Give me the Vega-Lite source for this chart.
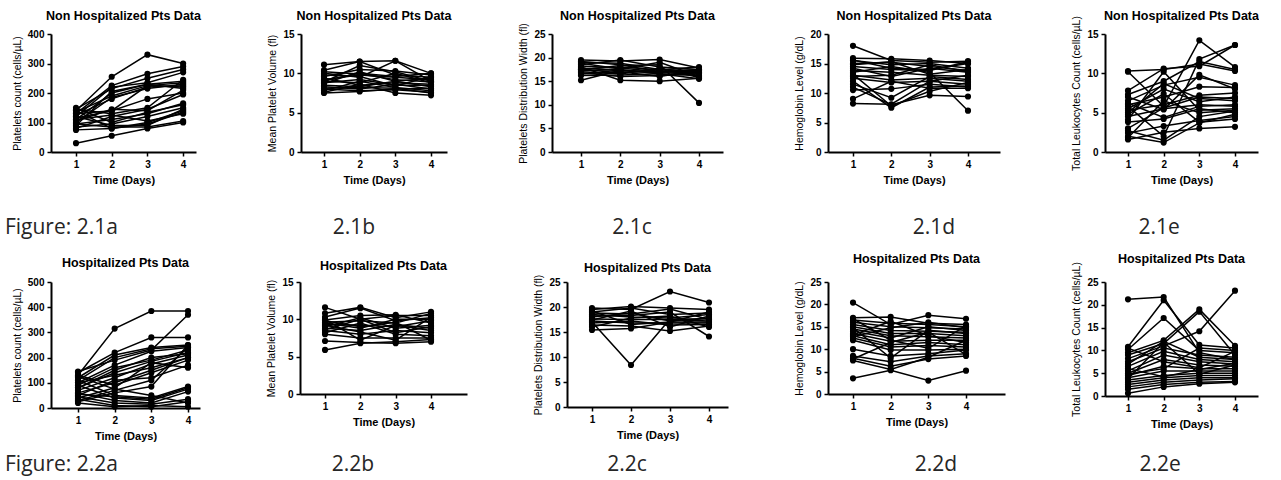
{"$schema":"https://vega.github.io/schema/vega-lite/v6.json","background":"white","padding":{"left":4,"top":9,"right":0,"bottom":0},
"config":{"view":{"stroke":null},"font":"Liberation Sans",
"axis":{"grid":false,"labelOverlap":false,"domainColor":"#000","domainWidth":2,"tickColor":"#000","tickWidth":1.5,"tickSize":4,"labelFont":"Liberation Sans","labelFontSize":10,"labelFontWeight":"bold","labelColor":"#000","titleFont":"Liberation Sans","titleColor":"#000"},
"axisX":{"labelPadding":3,"titleFontSize":11,"titleFontWeight":"bold","titlePadding":5,"labelAngle":0},
"axisY":{"labelPadding":3,"titleFontSize":10.5,"titleFontWeight":"normal","titlePadding":5},
"title":{"font":"Liberation Sans","fontSize":12.5,"fontWeight":"bold","color":"#000","offset":7}},
"datasets":{
"a1":[{"s":1,"t":1,"v":140},{"s":1,"t":2,"v":255},{"s":1,"t":3,"v":330},{"s":1,"t":4,"v":300},{"s":2,"t":1,"v":130},{"s":2,"t":2,"v":225},{"s":2,"t":3,"v":265},{"s":2,"t":4,"v":290},{"s":3,"t":1,"v":145},{"s":3,"t":2,"v":215},{"s":3,"t":3,"v":250},{"s":3,"t":4,"v":280},{"s":4,"t":1,"v":120},{"s":4,"t":2,"v":220},{"s":4,"t":3,"v":235},{"s":4,"t":4,"v":270},{"s":5,"t":1,"v":110},{"s":5,"t":2,"v":200},{"s":5,"t":3,"v":230},{"s":5,"t":4,"v":240},{"s":6,"t":1,"v":135},{"s":6,"t":2,"v":190},{"s":6,"t":3,"v":225},{"s":6,"t":4,"v":235},{"s":7,"t":1,"v":100},{"s":7,"t":2,"v":185},{"s":7,"t":3,"v":215},{"s":7,"t":4,"v":230},{"s":8,"t":1,"v":125},{"s":8,"t":2,"v":180},{"s":8,"t":3,"v":220},{"s":8,"t":4,"v":225},{"s":9,"t":1,"v":90},{"s":9,"t":2,"v":205},{"s":9,"t":3,"v":230},{"s":9,"t":4,"v":215},{"s":10,"t":1,"v":115},{"s":10,"t":2,"v":140},{"s":10,"t":3,"v":180},{"s":10,"t":4,"v":200},{"s":11,"t":1,"v":145},{"s":11,"t":2,"v":130},{"s":11,"t":3,"v":150},{"s":11,"t":4,"v":245},{"s":12,"t":1,"v":105},{"s":12,"t":2,"v":145},{"s":12,"t":3,"v":140},{"s":12,"t":4,"v":210},{"s":13,"t":1,"v":80},{"s":13,"t":2,"v":120},{"s":13,"t":3,"v":145},{"s":13,"t":4,"v":195},{"s":14,"t":1,"v":95},{"s":14,"t":2,"v":110},{"s":14,"t":3,"v":130},{"s":14,"t":4,"v":165},{"s":15,"t":1,"v":150},{"s":15,"t":2,"v":100},{"s":15,"t":3,"v":135},{"s":15,"t":4,"v":160},{"s":16,"t":1,"v":85},{"s":16,"t":2,"v":95},{"s":16,"t":3,"v":120},{"s":16,"t":4,"v":150},{"s":17,"t":1,"v":75},{"s":17,"t":2,"v":80},{"s":17,"t":3,"v":100},{"s":17,"t":4,"v":140},{"s":18,"t":1,"v":110},{"s":18,"t":2,"v":125},{"s":18,"t":3,"v":105},{"s":18,"t":4,"v":130},{"s":19,"t":1,"v":120},{"s":19,"t":2,"v":90},{"s":19,"t":3,"v":90},{"s":19,"t":4,"v":145},{"s":20,"t":1,"v":30},{"s":20,"t":2,"v":55},{"s":20,"t":3,"v":80},{"s":20,"t":4,"v":100},{"s":21,"t":1,"v":95},{"s":21,"t":2,"v":85},{"s":21,"t":3,"v":85},{"s":21,"t":4,"v":105},{"s":22,"t":1,"v":130},{"s":22,"t":2,"v":140},{"s":22,"t":3,"v":225},{"s":22,"t":4,"v":220},{"s":23,"t":1,"v":140},{"s":23,"t":2,"v":80},{"s":23,"t":3,"v":95},{"s":23,"t":4,"v":135}],
"b1":[{"s":1,"t":1,"v":11.1},{"s":1,"t":2,"v":11.5},{"s":1,"t":3,"v":11.6},{"s":1,"t":4,"v":10.0},{"s":2,"t":1,"v":10.4},{"s":2,"t":2,"v":11.5},{"s":2,"t":3,"v":9.8},{"s":2,"t":4,"v":9.5},{"s":3,"t":1,"v":10.0},{"s":3,"t":2,"v":9.5},{"s":3,"t":3,"v":11.6},{"s":3,"t":4,"v":9.0},{"s":4,"t":1,"v":9.6},{"s":4,"t":2,"v":10.5},{"s":4,"t":3,"v":10.3},{"s":4,"t":4,"v":9.8},{"s":5,"t":1,"v":9.2},{"s":5,"t":2,"v":9.8},{"s":5,"t":3,"v":9.5},{"s":5,"t":4,"v":9.2},{"s":6,"t":1,"v":9.0},{"s":6,"t":2,"v":8.8},{"s":6,"t":3,"v":10.0},{"s":6,"t":4,"v":8.8},{"s":7,"t":1,"v":8.8},{"s":7,"t":2,"v":9.2},{"s":7,"t":3,"v":8.5},{"s":7,"t":4,"v":8.5},{"s":8,"t":1,"v":8.5},{"s":8,"t":2,"v":8.3},{"s":8,"t":3,"v":9.0},{"s":8,"t":4,"v":9.4},{"s":9,"t":1,"v":8.3},{"s":9,"t":2,"v":8.0},{"s":9,"t":3,"v":8.6},{"s":9,"t":4,"v":8.0},{"s":10,"t":1,"v":8.0},{"s":10,"t":2,"v":7.8},{"s":10,"t":3,"v":7.9},{"s":10,"t":4,"v":7.6},{"s":11,"t":1,"v":7.6},{"s":11,"t":2,"v":8.6},{"s":11,"t":3,"v":7.5},{"s":11,"t":4,"v":7.2},{"s":12,"t":1,"v":7.8},{"s":12,"t":2,"v":9.0},{"s":12,"t":3,"v":8.2},{"s":12,"t":4,"v":7.8},{"s":13,"t":1,"v":8.7},{"s":13,"t":2,"v":10.2},{"s":13,"t":3,"v":9.0},{"s":13,"t":4,"v":8.3},{"s":14,"t":1,"v":9.4},{"s":14,"t":2,"v":8.5},{"s":14,"t":3,"v":8.8},{"s":14,"t":4,"v":8.6},{"s":15,"t":1,"v":10.2},{"s":15,"t":2,"v":9.9},{"s":15,"t":3,"v":9.2},{"s":15,"t":4,"v":8.9},{"s":16,"t":1,"v":8.1},{"s":16,"t":2,"v":8.2},{"s":16,"t":3,"v":8.1},{"s":16,"t":4,"v":7.5},{"s":17,"t":1,"v":9.8},{"s":17,"t":2,"v":9.6},{"s":17,"t":3,"v":8.4},{"s":17,"t":4,"v":9.6},{"s":18,"t":1,"v":8.9},{"s":18,"t":2,"v":11.0},{"s":18,"t":3,"v":10.2},{"s":18,"t":4,"v":9.0},{"s":19,"t":1,"v":7.5},{"s":19,"t":2,"v":7.7},{"s":19,"t":3,"v":8.0},{"s":19,"t":4,"v":8.1},{"s":20,"t":1,"v":9.1},{"s":20,"t":2,"v":10.0},{"s":20,"t":3,"v":9.6},{"s":20,"t":4,"v":10.0}],
"c1":[{"s":1,"t":1,"v":19.5},{"s":1,"t":2,"v":19.3},{"s":1,"t":3,"v":19.6},{"s":1,"t":4,"v":17.8},{"s":2,"t":1,"v":19.0},{"s":2,"t":2,"v":18.8},{"s":2,"t":3,"v":17.5},{"s":2,"t":4,"v":17.2},{"s":3,"t":1,"v":18.5},{"s":3,"t":2,"v":19.5},{"s":3,"t":3,"v":18.0},{"s":3,"t":4,"v":17.5},{"s":4,"t":1,"v":18.2},{"s":4,"t":2,"v":17.8},{"s":4,"t":3,"v":17.0},{"s":4,"t":4,"v":16.8},{"s":5,"t":1,"v":17.8},{"s":5,"t":2,"v":17.2},{"s":5,"t":3,"v":16.8},{"s":5,"t":4,"v":16.5},{"s":6,"t":1,"v":17.5},{"s":6,"t":2,"v":16.8},{"s":6,"t":3,"v":17.2},{"s":6,"t":4,"v":17.0},{"s":7,"t":1,"v":17.2},{"s":7,"t":2,"v":17.5},{"s":7,"t":3,"v":16.5},{"s":7,"t":4,"v":16.2},{"s":8,"t":1,"v":17.0},{"s":8,"t":2,"v":16.5},{"s":8,"t":3,"v":17.8},{"s":8,"t":4,"v":15.8},{"s":9,"t":1,"v":16.8},{"s":9,"t":2,"v":16.0},{"s":9,"t":3,"v":16.2},{"s":9,"t":4,"v":16.6},{"s":10,"t":1,"v":15.2},{"s":10,"t":2,"v":17.3},{"s":10,"t":3,"v":17.0},{"s":10,"t":4,"v":17.5},{"s":11,"t":1,"v":18.0},{"s":11,"t":2,"v":15.2},{"s":11,"t":3,"v":15.0},{"s":11,"t":4,"v":15.6},{"s":12,"t":1,"v":17.4},{"s":12,"t":2,"v":18.3},{"s":12,"t":3,"v":18.5},{"s":12,"t":4,"v":10.4},{"s":13,"t":1,"v":16.5},{"s":13,"t":2,"v":17.0},{"s":13,"t":3,"v":16.0},{"s":13,"t":4,"v":17.3},{"s":14,"t":1,"v":18.8},{"s":14,"t":2,"v":17.6},{"s":14,"t":3,"v":19.0},{"s":14,"t":4,"v":16.0},{"s":15,"t":1,"v":17.6},{"s":15,"t":2,"v":18.0},{"s":15,"t":3,"v":17.4},{"s":15,"t":4,"v":18.0},{"s":16,"t":1,"v":16.2},{"s":16,"t":2,"v":16.3},{"s":16,"t":3,"v":16.6},{"s":16,"t":4,"v":15.5},{"s":17,"t":1,"v":19.2},{"s":17,"t":2,"v":18.5},{"s":17,"t":3,"v":17.0},{"s":17,"t":4,"v":16.9}],
"d1":[{"s":1,"t":1,"v":18.0},{"s":1,"t":2,"v":15.5},{"s":1,"t":3,"v":15.2},{"s":1,"t":4,"v":15.4},{"s":2,"t":1,"v":15.9},{"s":2,"t":2,"v":15.8},{"s":2,"t":3,"v":15.5},{"s":2,"t":4,"v":15.0},{"s":3,"t":1,"v":15.5},{"s":3,"t":2,"v":14.8},{"s":3,"t":3,"v":15.0},{"s":3,"t":4,"v":14.2},{"s":4,"t":1,"v":15.0},{"s":4,"t":2,"v":15.2},{"s":4,"t":3,"v":14.5},{"s":4,"t":4,"v":13.8},{"s":5,"t":1,"v":14.5},{"s":5,"t":2,"v":14.0},{"s":5,"t":3,"v":13.8},{"s":5,"t":4,"v":15.3},{"s":6,"t":1,"v":14.2},{"s":6,"t":2,"v":12.8},{"s":6,"t":3,"v":14.2},{"s":6,"t":4,"v":13.5},{"s":7,"t":1,"v":13.8},{"s":7,"t":2,"v":13.5},{"s":7,"t":3,"v":13.0},{"s":7,"t":4,"v":12.8},{"s":8,"t":1,"v":13.5},{"s":8,"t":2,"v":14.5},{"s":8,"t":3,"v":13.5},{"s":8,"t":4,"v":7.0},{"s":9,"t":1,"v":13.0},{"s":9,"t":2,"v":12.2},{"s":9,"t":3,"v":12.5},{"s":9,"t":4,"v":12.0},{"s":10,"t":1,"v":12.5},{"s":10,"t":2,"v":11.8},{"s":10,"t":3,"v":12.0},{"s":10,"t":4,"v":11.5},{"s":11,"t":1,"v":12.0},{"s":11,"t":2,"v":7.5},{"s":11,"t":3,"v":11.0},{"s":11,"t":4,"v":11.2},{"s":12,"t":1,"v":11.5},{"s":12,"t":2,"v":9.2},{"s":12,"t":3,"v":12.8},{"s":12,"t":4,"v":12.3},{"s":13,"t":1,"v":11.0},{"s":13,"t":2,"v":8.0},{"s":13,"t":3,"v":9.6},{"s":13,"t":4,"v":9.4},{"s":14,"t":1,"v":10.5},{"s":14,"t":2,"v":10.7},{"s":14,"t":3,"v":11.5},{"s":14,"t":4,"v":11.0},{"s":15,"t":1,"v":9.0},{"s":15,"t":2,"v":12.0},{"s":15,"t":3,"v":10.8},{"s":15,"t":4,"v":10.8},{"s":16,"t":1,"v":8.2},{"s":16,"t":2,"v":8.1},{"s":16,"t":3,"v":12.0},{"s":16,"t":4,"v":13.0},{"s":17,"t":1,"v":14.8},{"s":17,"t":2,"v":15.3},{"s":17,"t":3,"v":13.2},{"s":17,"t":4,"v":14.0},{"s":18,"t":1,"v":13.2},{"s":18,"t":2,"v":7.8},{"s":18,"t":3,"v":10.3},{"s":18,"t":4,"v":11.8},{"s":19,"t":1,"v":12.8},{"s":19,"t":2,"v":13.0},{"s":19,"t":3,"v":14.8},{"s":19,"t":4,"v":13.6},{"s":20,"t":1,"v":15.6},{"s":20,"t":2,"v":14.2},{"s":20,"t":3,"v":14.0},{"s":20,"t":4,"v":15.0}],
"e1":[{"s":1,"t":1,"v":10.3},{"s":1,"t":2,"v":10.5},{"s":1,"t":3,"v":11.2},{"s":1,"t":4,"v":10.3},{"s":2,"t":1,"v":10.2},{"s":2,"t":2,"v":5.8},{"s":2,"t":3,"v":14.2},{"s":2,"t":4,"v":10.8},{"s":3,"t":1,"v":7.8},{"s":3,"t":2,"v":10.6},{"s":3,"t":3,"v":10.9},{"s":3,"t":4,"v":13.6},{"s":4,"t":1,"v":7.3},{"s":4,"t":2,"v":9.0},{"s":4,"t":3,"v":11.5},{"s":4,"t":4,"v":10.5},{"s":5,"t":1,"v":6.5},{"s":5,"t":2,"v":8.5},{"s":5,"t":3,"v":9.5},{"s":5,"t":4,"v":8.5},{"s":6,"t":1,"v":6.0},{"s":6,"t":2,"v":7.0},{"s":6,"t":3,"v":8.3},{"s":6,"t":4,"v":8.2},{"s":7,"t":1,"v":5.8},{"s":7,"t":2,"v":2.0},{"s":7,"t":3,"v":11.8},{"s":7,"t":4,"v":13.6},{"s":8,"t":1,"v":5.3},{"s":8,"t":2,"v":6.0},{"s":8,"t":3,"v":7.2},{"s":8,"t":4,"v":7.5},{"s":9,"t":1,"v":5.0},{"s":9,"t":2,"v":8.7},{"s":9,"t":3,"v":6.8},{"s":9,"t":4,"v":6.5},{"s":10,"t":1,"v":4.5},{"s":10,"t":2,"v":5.5},{"s":10,"t":3,"v":6.0},{"s":10,"t":4,"v":5.8},{"s":11,"t":1,"v":4.1},{"s":11,"t":2,"v":10.2},{"s":11,"t":3,"v":5.3},{"s":11,"t":4,"v":5.5},{"s":12,"t":1,"v":3.8},{"s":12,"t":2,"v":4.2},{"s":12,"t":3,"v":5.5},{"s":12,"t":4,"v":5.0},{"s":13,"t":1,"v":3.0},{"s":13,"t":2,"v":5.6},{"s":13,"t":3,"v":7.0},{"s":13,"t":4,"v":6.8},{"s":14,"t":1,"v":2.7},{"s":14,"t":2,"v":1.5},{"s":14,"t":3,"v":4.5},{"s":14,"t":4,"v":5.2},{"s":15,"t":1,"v":2.4},{"s":15,"t":2,"v":3.3},{"s":15,"t":3,"v":4.0},{"s":15,"t":4,"v":4.5},{"s":16,"t":1,"v":2.0},{"s":16,"t":2,"v":1.2},{"s":16,"t":3,"v":3.7},{"s":16,"t":4,"v":4.8},{"s":17,"t":1,"v":1.6},{"s":17,"t":2,"v":2.5},{"s":17,"t":3,"v":3.0},{"s":17,"t":4,"v":3.2},{"s":18,"t":1,"v":6.2},{"s":18,"t":2,"v":4.4},{"s":18,"t":3,"v":5.8},{"s":18,"t":4,"v":6.0},{"s":19,"t":1,"v":7.0},{"s":19,"t":2,"v":5.4},{"s":19,"t":3,"v":9.8},{"s":19,"t":4,"v":8.0},{"s":20,"t":1,"v":4.8},{"s":20,"t":2,"v":7.4},{"s":20,"t":3,"v":3.8},{"s":20,"t":4,"v":4.2},{"s":21,"t":1,"v":1.8},{"s":21,"t":2,"v":6.5},{"s":21,"t":3,"v":5.0},{"s":21,"t":4,"v":5.3},{"s":22,"t":1,"v":5.5},{"s":22,"t":2,"v":8.0},{"s":22,"t":3,"v":6.4},{"s":22,"t":4,"v":7.0}],
"a2":[{"s":1,"t":1,"v":130},{"s":1,"t":2,"v":315},{"s":1,"t":3,"v":385},{"s":1,"t":4,"v":385},{"s":2,"t":1,"v":140},{"s":2,"t":2,"v":220},{"s":2,"t":3,"v":280},{"s":2,"t":4,"v":280},{"s":3,"t":1,"v":120},{"s":3,"t":2,"v":210},{"s":3,"t":3,"v":240},{"s":3,"t":4,"v":250},{"s":4,"t":1,"v":110},{"s":4,"t":2,"v":200},{"s":4,"t":3,"v":235},{"s":4,"t":4,"v":245},{"s":5,"t":1,"v":100},{"s":5,"t":2,"v":170},{"s":5,"t":3,"v":225},{"s":5,"t":4,"v":240},{"s":6,"t":1,"v":145},{"s":6,"t":2,"v":190},{"s":6,"t":3,"v":230},{"s":6,"t":4,"v":370},{"s":7,"t":1,"v":90},{"s":7,"t":2,"v":160},{"s":7,"t":3,"v":190},{"s":7,"t":4,"v":230},{"s":8,"t":1,"v":80},{"s":8,"t":2,"v":140},{"s":8,"t":3,"v":185},{"s":8,"t":4,"v":220},{"s":9,"t":1,"v":70},{"s":9,"t":2,"v":120},{"s":9,"t":3,"v":175},{"s":9,"t":4,"v":210},{"s":10,"t":1,"v":60},{"s":10,"t":2,"v":100},{"s":10,"t":3,"v":150},{"s":10,"t":4,"v":200},{"s":11,"t":1,"v":130},{"s":11,"t":2,"v":90},{"s":11,"t":3,"v":140},{"s":11,"t":4,"v":190},{"s":12,"t":1,"v":50},{"s":12,"t":2,"v":110},{"s":12,"t":3,"v":120},{"s":12,"t":4,"v":170},{"s":13,"t":1,"v":40},{"s":13,"t":2,"v":80},{"s":13,"t":3,"v":180},{"s":13,"t":4,"v":160},{"s":14,"t":1,"v":30},{"s":14,"t":2,"v":70},{"s":14,"t":3,"v":110},{"s":14,"t":4,"v":240},{"s":15,"t":1,"v":25},{"s":15,"t":2,"v":60},{"s":15,"t":3,"v":85},{"s":15,"t":4,"v":250},{"s":16,"t":1,"v":110},{"s":16,"t":2,"v":50},{"s":16,"t":3,"v":40},{"s":16,"t":4,"v":85},{"s":17,"t":1,"v":90},{"s":17,"t":2,"v":40},{"s":17,"t":3,"v":30},{"s":17,"t":4,"v":75},{"s":18,"t":1,"v":60},{"s":18,"t":2,"v":30},{"s":18,"t":3,"v":20},{"s":18,"t":4,"v":65},{"s":19,"t":1,"v":45},{"s":19,"t":2,"v":20},{"s":19,"t":3,"v":15},{"s":19,"t":4,"v":35},{"s":20,"t":1,"v":35},{"s":20,"t":2,"v":10},{"s":20,"t":3,"v":5},{"s":20,"t":4,"v":25},{"s":21,"t":1,"v":20},{"s":21,"t":2,"v":5},{"s":21,"t":3,"v":10},{"s":21,"t":4,"v":5},{"s":22,"t":1,"v":125},{"s":22,"t":2,"v":75},{"s":22,"t":3,"v":50},{"s":22,"t":4,"v":20},{"s":23,"t":1,"v":100},{"s":23,"t":2,"v":130},{"s":23,"t":3,"v":160},{"s":23,"t":4,"v":200},{"s":24,"t":1,"v":80},{"s":24,"t":2,"v":150},{"s":24,"t":3,"v":200},{"s":24,"t":4,"v":215},{"s":25,"t":1,"v":55},{"s":25,"t":2,"v":45},{"s":25,"t":3,"v":35},{"s":25,"t":4,"v":80}],
"b2":[{"s":1,"t":1,"v":11.6},{"s":1,"t":2,"v":10.0},{"s":1,"t":3,"v":10.5},{"s":1,"t":4,"v":10.5},{"s":2,"t":1,"v":10.8},{"s":2,"t":2,"v":11.6},{"s":2,"t":3,"v":10.2},{"s":2,"t":4,"v":11.0},{"s":3,"t":1,"v":10.3},{"s":3,"t":2,"v":11.5},{"s":3,"t":3,"v":9.8},{"s":3,"t":4,"v":10.2},{"s":4,"t":1,"v":9.9},{"s":4,"t":2,"v":10.5},{"s":4,"t":3,"v":10.6},{"s":4,"t":4,"v":9.5},{"s":5,"t":1,"v":9.6},{"s":5,"t":2,"v":9.8},{"s":5,"t":3,"v":9.5},{"s":5,"t":4,"v":10.8},{"s":6,"t":1,"v":9.3},{"s":6,"t":2,"v":9.2},{"s":6,"t":3,"v":9.0},{"s":6,"t":4,"v":9.8},{"s":7,"t":1,"v":9.0},{"s":7,"t":2,"v":10.2},{"s":7,"t":3,"v":8.8},{"s":7,"t":4,"v":9.2},{"s":8,"t":1,"v":8.8},{"s":8,"t":2,"v":8.5},{"s":8,"t":3,"v":9.3},{"s":8,"t":4,"v":8.8},{"s":9,"t":1,"v":8.5},{"s":9,"t":2,"v":8.0},{"s":9,"t":3,"v":8.5},{"s":9,"t":4,"v":8.2},{"s":10,"t":1,"v":8.2},{"s":10,"t":2,"v":9.5},{"s":10,"t":3,"v":8.0},{"s":10,"t":4,"v":7.8},{"s":11,"t":1,"v":8.0},{"s":11,"t":2,"v":7.5},{"s":11,"t":3,"v":7.5},{"s":11,"t":4,"v":7.5},{"s":12,"t":1,"v":7.1},{"s":12,"t":2,"v":6.9},{"s":12,"t":3,"v":6.8},{"s":12,"t":4,"v":7.0},{"s":13,"t":1,"v":5.9},{"s":13,"t":2,"v":6.8},{"s":13,"t":3,"v":7.0},{"s":13,"t":4,"v":7.3},{"s":14,"t":1,"v":9.5},{"s":14,"t":2,"v":8.8},{"s":14,"t":3,"v":10.0},{"s":14,"t":4,"v":10.0},{"s":15,"t":1,"v":10.0},{"s":15,"t":2,"v":7.2},{"s":15,"t":3,"v":9.2},{"s":15,"t":4,"v":8.5},{"s":16,"t":1,"v":8.6},{"s":16,"t":2,"v":10.0},{"s":16,"t":3,"v":8.2},{"s":16,"t":4,"v":9.0},{"s":17,"t":1,"v":9.2},{"s":17,"t":2,"v":8.3},{"s":17,"t":3,"v":7.2},{"s":17,"t":4,"v":10.3},{"s":18,"t":1,"v":9.8},{"s":18,"t":2,"v":9.0},{"s":18,"t":3,"v":9.6},{"s":18,"t":4,"v":7.2}],
"c2":[{"s":1,"t":1,"v":19.8},{"s":1,"t":2,"v":19.5},{"s":1,"t":3,"v":23.1},{"s":1,"t":4,"v":20.9},{"s":2,"t":1,"v":19.5},{"s":2,"t":2,"v":20.1},{"s":2,"t":3,"v":19.8},{"s":2,"t":4,"v":19.5},{"s":3,"t":1,"v":19.0},{"s":3,"t":2,"v":19.8},{"s":3,"t":3,"v":18.5},{"s":3,"t":4,"v":18.8},{"s":4,"t":1,"v":18.5},{"s":4,"t":2,"v":18.0},{"s":4,"t":3,"v":17.8},{"s":4,"t":4,"v":18.5},{"s":5,"t":1,"v":18.0},{"s":5,"t":2,"v":18.8},{"s":5,"t":3,"v":17.2},{"s":5,"t":4,"v":17.8},{"s":6,"t":1,"v":17.6},{"s":6,"t":2,"v":17.5},{"s":6,"t":3,"v":17.5},{"s":6,"t":4,"v":17.2},{"s":7,"t":1,"v":17.2},{"s":7,"t":2,"v":16.8},{"s":7,"t":3,"v":16.8},{"s":7,"t":4,"v":16.8},{"s":8,"t":1,"v":16.8},{"s":8,"t":2,"v":17.2},{"s":8,"t":3,"v":16.4},{"s":8,"t":4,"v":16.5},{"s":9,"t":1,"v":16.4},{"s":9,"t":2,"v":16.2},{"s":9,"t":3,"v":15.2},{"s":9,"t":4,"v":16.2},{"s":10,"t":1,"v":15.4},{"s":10,"t":2,"v":15.7},{"s":10,"t":3,"v":17.0},{"s":10,"t":4,"v":17.0},{"s":11,"t":1,"v":17.0},{"s":11,"t":2,"v":8.4},{"s":11,"t":3,"v":17.6},{"s":11,"t":4,"v":17.6},{"s":12,"t":1,"v":18.2},{"s":12,"t":2,"v":18.3},{"s":12,"t":3,"v":19.0},{"s":12,"t":4,"v":14.1},{"s":13,"t":1,"v":17.4},{"s":13,"t":2,"v":19.2},{"s":13,"t":3,"v":16.0},{"s":13,"t":4,"v":18.2},{"s":14,"t":1,"v":16.0},{"s":14,"t":2,"v":17.8},{"s":14,"t":3,"v":18.2},{"s":14,"t":4,"v":16.0},{"s":15,"t":1,"v":19.2},{"s":15,"t":2,"v":16.5},{"s":15,"t":3,"v":17.0},{"s":15,"t":4,"v":19.0},{"s":16,"t":1,"v":18.8},{"s":16,"t":2,"v":18.6},{"s":16,"t":3,"v":19.6},{"s":16,"t":4,"v":17.5}],
"d2":[{"s":1,"t":1,"v":20.4},{"s":1,"t":2,"v":15.5},{"s":1,"t":3,"v":17.6},{"s":1,"t":4,"v":16.8},{"s":2,"t":1,"v":17.0},{"s":2,"t":2,"v":17.2},{"s":2,"t":3,"v":15.8},{"s":2,"t":4,"v":15.5},{"s":3,"t":1,"v":16.5},{"s":3,"t":2,"v":15.8},{"s":3,"t":3,"v":15.5},{"s":3,"t":4,"v":15.0},{"s":4,"t":1,"v":16.0},{"s":4,"t":2,"v":15.0},{"s":4,"t":3,"v":14.8},{"s":4,"t":4,"v":14.5},{"s":5,"t":1,"v":15.5},{"s":5,"t":2,"v":14.2},{"s":5,"t":3,"v":14.0},{"s":5,"t":4,"v":13.8},{"s":6,"t":1,"v":15.0},{"s":6,"t":2,"v":13.5},{"s":6,"t":3,"v":13.5},{"s":6,"t":4,"v":13.0},{"s":7,"t":1,"v":14.5},{"s":7,"t":2,"v":13.0},{"s":7,"t":3,"v":12.8},{"s":7,"t":4,"v":12.5},{"s":8,"t":1,"v":14.0},{"s":8,"t":2,"v":12.5},{"s":8,"t":3,"v":15.0},{"s":8,"t":4,"v":14.2},{"s":9,"t":1,"v":13.5},{"s":9,"t":2,"v":11.8},{"s":9,"t":3,"v":12.0},{"s":9,"t":4,"v":12.0},{"s":10,"t":1,"v":13.0},{"s":10,"t":2,"v":11.0},{"s":10,"t":3,"v":11.5},{"s":10,"t":4,"v":11.0},{"s":11,"t":1,"v":12.5},{"s":11,"t":2,"v":10.5},{"s":11,"t":3,"v":10.8},{"s":11,"t":4,"v":10.5},{"s":12,"t":1,"v":12.0},{"s":12,"t":2,"v":9.8},{"s":12,"t":3,"v":9.8},{"s":12,"t":4,"v":10.0},{"s":13,"t":1,"v":10.0},{"s":13,"t":2,"v":8.5},{"s":13,"t":3,"v":9.0},{"s":13,"t":4,"v":9.8},{"s":14,"t":1,"v":8.5},{"s":14,"t":2,"v":7.2},{"s":14,"t":3,"v":8.5},{"s":14,"t":4,"v":9.0},{"s":15,"t":1,"v":8.0},{"s":15,"t":2,"v":6.2},{"s":15,"t":3,"v":7.8},{"s":15,"t":4,"v":8.5},{"s":16,"t":1,"v":7.5},{"s":16,"t":2,"v":5.5},{"s":16,"t":3,"v":8.2},{"s":16,"t":4,"v":12.0},{"s":17,"t":1,"v":3.5},{"s":17,"t":2,"v":5.3},{"s":17,"t":3,"v":3.0},{"s":17,"t":4,"v":5.2},{"s":18,"t":1,"v":16.8},{"s":18,"t":2,"v":12.0},{"s":18,"t":3,"v":10.2},{"s":18,"t":4,"v":15.2},{"s":19,"t":1,"v":14.8},{"s":19,"t":2,"v":8.0},{"s":19,"t":3,"v":14.2},{"s":19,"t":4,"v":13.5},{"s":20,"t":1,"v":13.2},{"s":20,"t":2,"v":16.2},{"s":20,"t":3,"v":13.0},{"s":20,"t":4,"v":11.5},{"s":21,"t":1,"v":7.8},{"s":21,"t":2,"v":11.5},{"s":21,"t":3,"v":13.8},{"s":21,"t":4,"v":8.8},{"s":22,"t":1,"v":12.8},{"s":22,"t":2,"v":14.8},{"s":22,"t":3,"v":16.0},{"s":22,"t":4,"v":14.8}],
"e2":[{"s":1,"t":1,"v":21.2},{"s":1,"t":2,"v":21.7},{"s":1,"t":3,"v":9.5},{"s":1,"t":4,"v":8.0},{"s":2,"t":1,"v":10.8},{"s":2,"t":2,"v":21.0},{"s":2,"t":3,"v":11.2},{"s":2,"t":4,"v":10.5},{"s":3,"t":1,"v":10.2},{"s":3,"t":2,"v":17.1},{"s":3,"t":3,"v":10.0},{"s":3,"t":4,"v":9.5},{"s":4,"t":1,"v":9.5},{"s":4,"t":2,"v":12.2},{"s":4,"t":3,"v":19.0},{"s":4,"t":4,"v":11.0},{"s":5,"t":1,"v":9.0},{"s":5,"t":2,"v":11.5},{"s":5,"t":3,"v":18.5},{"s":5,"t":4,"v":9.0},{"s":6,"t":1,"v":8.2},{"s":6,"t":2,"v":11.0},{"s":6,"t":3,"v":14.2},{"s":6,"t":4,"v":23.1},{"s":7,"t":1,"v":7.5},{"s":7,"t":2,"v":10.5},{"s":7,"t":3,"v":9.0},{"s":7,"t":4,"v":8.5},{"s":8,"t":1,"v":7.0},{"s":8,"t":2,"v":12.0},{"s":8,"t":3,"v":8.5},{"s":8,"t":4,"v":8.0},{"s":9,"t":1,"v":6.5},{"s":9,"t":2,"v":9.8},{"s":9,"t":3,"v":8.0},{"s":9,"t":4,"v":7.5},{"s":10,"t":1,"v":5.5},{"s":10,"t":2,"v":9.0},{"s":10,"t":3,"v":7.5},{"s":10,"t":4,"v":7.0},{"s":11,"t":1,"v":5.0},{"s":11,"t":2,"v":8.0},{"s":11,"t":3,"v":6.8},{"s":11,"t":4,"v":6.5},{"s":12,"t":1,"v":4.5},{"s":12,"t":2,"v":6.5},{"s":12,"t":3,"v":6.0},{"s":12,"t":4,"v":6.0},{"s":13,"t":1,"v":4.0},{"s":13,"t":2,"v":5.5},{"s":13,"t":3,"v":5.5},{"s":13,"t":4,"v":5.5},{"s":14,"t":1,"v":3.5},{"s":14,"t":2,"v":4.5},{"s":14,"t":3,"v":5.0},{"s":14,"t":4,"v":5.0},{"s":15,"t":1,"v":3.0},{"s":15,"t":2,"v":4.0},{"s":15,"t":3,"v":4.5},{"s":15,"t":4,"v":4.5},{"s":16,"t":1,"v":2.5},{"s":16,"t":2,"v":3.5},{"s":16,"t":3,"v":4.0},{"s":16,"t":4,"v":4.0},{"s":17,"t":1,"v":2.0},{"s":17,"t":2,"v":3.0},{"s":17,"t":3,"v":3.5},{"s":17,"t":4,"v":3.8},{"s":18,"t":1,"v":1.5},{"s":18,"t":2,"v":2.5},{"s":18,"t":3,"v":3.0},{"s":18,"t":4,"v":3.2},{"s":19,"t":1,"v":0.6},{"s":19,"t":2,"v":2.0},{"s":19,"t":3,"v":2.7},{"s":19,"t":4,"v":3.0},{"s":20,"t":1,"v":4.8},{"s":20,"t":2,"v":6.0},{"s":20,"t":3,"v":10.5},{"s":20,"t":4,"v":10.0},{"s":21,"t":1,"v":10.5},{"s":21,"t":2,"v":7.5},{"s":21,"t":3,"v":6.2},{"s":21,"t":4,"v":9.8},{"s":22,"t":1,"v":3.8},{"s":22,"t":2,"v":11.8},{"s":22,"t":3,"v":4.8},{"s":22,"t":4,"v":6.8},{"s":23,"t":1,"v":6.0},{"s":23,"t":2,"v":4.2},{"s":23,"t":3,"v":5.8},{"s":23,"t":4,"v":7.2}]
},
"spacing":14,
"vconcat":[
{"bounds":"flush","spacing":105,"hconcat":[
{"title":{"text":"Non Hospitalized Pts Data","offset":7},"width":145,"height":118,"layer":[
{"data":{"name":"a1"},"mark":{"type":"line","color":"#000","strokeWidth":1.5,"point":{"filled":true,"size":38,"color":"#000","opacity":1}},"encoding":{"x":{"field":"t","type":"quantitative","scale":{"domain":[0.3,4.36],"nice":false,"zero":false},"axis":{"values":[1,2,3,4],"format":"d","labelOverlap":false,"title":"Time (Days)"}},"y":{"field":"v","type":"quantitative","scale":{"domain":[0,400],"nice":false},"axis":{"values":[0,100,200,300,400],"labelOverlap":false,"title":"Platelets count (cells/µL)"}},"detail":{"field":"s","type":"nominal"}}},
{"data":{"values":[{"c":"Figure: 2.1a"}]},"mark":{"type":"text","font":"Open Sans","fontSize":21,"color":"#262626","align":"left","baseline":"middle"},"encoding":{"text":{"field":"c"},"x":{"datum":-0.99,"axis":{"labelOverlap":false,"values":[1,2,3,4]}},"y":{"datum":-257.6,"axis":{"labelOverlap":false,"values":[0,100,200,300,400]}}}}]},
{"title":{"text":"Non Hospitalized Pts Data","offset":7},"width":146,"height":118,"layer":[
{"data":{"name":"b1"},"mark":{"type":"line","color":"#000","strokeWidth":1.5,"point":{"filled":true,"size":38,"color":"#000","opacity":1}},"encoding":{"x":{"field":"t","type":"quantitative","scale":{"domain":[0.355,4.448],"nice":false,"zero":false},"axis":{"values":[1,2,3,4],"format":"d","labelOverlap":false,"title":"Time (Days)"}},"y":{"field":"v","type":"quantitative","scale":{"domain":[0,15],"nice":false},"axis":{"values":[0,5,10,15],"labelOverlap":false,"title":"Mean Platelet Volume (fl)"}},"detail":{"field":"s","type":"nominal"}}},
{"data":{"values":[{"c":"2.1b"}]},"mark":{"type":"text","font":"Open Sans","fontSize":21,"color":"#262626","align":"center","baseline":"middle"},"encoding":{"text":{"field":"c"},"x":{"datum":1.84,"axis":{"labelOverlap":false,"values":[1,2,3,4]}},"y":{"datum":-9.66,"axis":{"labelOverlap":false,"values":[0,5,10,15]}}}}]},
{"title":{"text":"Non Hospitalized Pts Data","offset":0.6},"width":171,"height":118,"layer":[
{"data":{"name":"c1"},"mark":{"type":"line","color":"#000","strokeWidth":1.5,"point":{"filled":true,"size":38,"color":"#000","opacity":1}},"encoding":{"x":{"field":"t","type":"quantitative","scale":{"domain":[0.263,4.61],"nice":false,"zero":false},"axis":{"values":[1,2,3,4],"format":"d","labelOverlap":false,"title":"Time (Days)"}},"y":{"field":"v","type":"quantitative","scale":{"domain":[0,25],"nice":false},"axis":{"values":[0,5,10,15,20,25],"labelOverlap":false,"title":"Platelets Distribution Width (fl)"}},"detail":{"field":"s","type":"nominal"}}},
{"data":{"values":[{"c":"2.1c"}]},"mark":{"type":"text","font":"Open Sans","fontSize":21,"color":"#262626","align":"center","baseline":"middle"},"encoding":{"text":{"field":"c"},"x":{"datum":2.3,"axis":{"labelOverlap":false,"values":[1,2,3,4]}},"y":{"datum":-16.1,"axis":{"labelOverlap":false,"values":[0,5,10,15,20,25]}}}}]},
{"title":{"text":"Non Hospitalized Pts Data","offset":7},"width":172,"height":118,"layer":[
{"data":{"name":"d1"},"mark":{"type":"line","color":"#000","strokeWidth":1.5,"point":{"filled":true,"size":38,"color":"#000","opacity":1}},"encoding":{"x":{"field":"t","type":"quantitative","scale":{"domain":[0.348,4.835],"nice":false,"zero":false},"axis":{"values":[1,2,3,4],"format":"d","labelOverlap":false,"title":"Time (Days)"}},"y":{"field":"v","type":"quantitative","scale":{"domain":[0,20],"nice":false},"axis":{"values":[0,5,10,15,20],"labelOverlap":false,"title":"Hemoglobin Level (g/dL)"}},"detail":{"field":"s","type":"nominal"}}},
{"data":{"values":[{"c":"2.1d"}]},"mark":{"type":"text","font":"Open Sans","fontSize":21,"color":"#262626","align":"center","baseline":"middle"},"encoding":{"text":{"field":"c"},"x":{"datum":3.11,"axis":{"labelOverlap":false,"values":[1,2,3,4]}},"y":{"datum":-12.88,"axis":{"labelOverlap":false,"values":[0,5,10,15,20]}}}}]},
{"title":{"text":"Non Hospitalized Pts Data","offset":-7},"width":153,"height":118,"layer":[
{"data":{"name":"e1"},"mark":{"type":"line","color":"#000","strokeWidth":1.5,"point":{"filled":true,"size":38,"color":"#000","opacity":1}},"encoding":{"x":{"field":"t","type":"quantitative","scale":{"domain":[0.355,4.645],"nice":false,"zero":false},"axis":{"values":[1,2,3,4],"format":"d","labelOverlap":false,"title":"Time (Days)"}},"y":{"field":"v","type":"quantitative","scale":{"domain":[0,15],"nice":false},"axis":{"values":[0,5,10,15],"labelOverlap":false,"title":"Total Leukocytes Count (cells/µL)"}},"detail":{"field":"s","type":"nominal"}}},
{"data":{"values":[{"c":"2.1e"}]},"mark":{"type":"text","font":"Open Sans","fontSize":21,"color":"#262626","align":"center","baseline":"middle"},"encoding":{"text":{"field":"c"},"x":{"datum":1.87,"axis":{"labelOverlap":false,"values":[1,2,3,4]}},"y":{"datum":-9.66,"axis":{"labelOverlap":false,"values":[0,5,10,15]}}}}]}
]},
{"bounds":"flush","spacing":100,"hconcat":[
{"title":{"text":"Hospitalized Pts Data","offset":8},"width":149,"height":126,"layer":[
{"data":{"name":"a2"},"mark":{"type":"line","color":"#000","strokeWidth":1.5,"point":{"filled":true,"size":38,"color":"#000","opacity":1}},"encoding":{"x":{"field":"t","type":"quantitative","scale":{"domain":[0.264,4.327],"nice":false,"zero":false},"axis":{"values":[1,2,3,4],"format":"d","labelOverlap":false,"title":"Time (Days)"}},"y":{"field":"v","type":"quantitative","scale":{"domain":[0,500],"nice":false},"axis":{"values":[0,100,200,300,400,500],"labelOverlap":false,"title":"Platelets count (cells/µL)"}},"detail":{"field":"s","type":"nominal"}}},
{"data":{"values":[{"c":"Figure: 2.2a"}]},"mark":{"type":"text","font":"Open Sans","fontSize":21,"color":"#262626","align":"left","baseline":"middle"},"encoding":{"text":{"field":"c"},"x":{"datum":-0.99,"axis":{"labelOverlap":false,"values":[1,2,3,4]}},"y":{"datum":-226.2,"axis":{"labelOverlap":false,"values":[0,100,200,300,400,500]}}}}]},
{"title":{"text":"Hospitalized Pts Data","offset":5},"width":167,"height":112,"layer":[
{"data":{"name":"b2"},"mark":{"type":"line","color":"#000","strokeWidth":1.5,"point":{"filled":true,"size":38,"color":"#000","opacity":1}},"encoding":{"x":{"field":"t","type":"quantitative","scale":{"domain":[0.292,5.018],"nice":false,"zero":false},"axis":{"values":[1,2,3,4],"format":"d","labelOverlap":false,"title":"Time (Days)"}},"y":{"field":"v","type":"quantitative","scale":{"domain":[0,15],"nice":false},"axis":{"values":[0,5,10,15],"labelOverlap":false,"title":"Mean Platelet Volume (fl)"}},"detail":{"field":"s","type":"nominal"}}},
{"data":{"values":[{"c":"2.2b"}]},"mark":{"type":"text","font":"Open Sans","fontSize":21,"color":"#262626","align":"center","baseline":"middle"},"encoding":{"text":{"field":"c"},"x":{"datum":1.79,"axis":{"labelOverlap":false,"values":[1,2,3,4]}},"y":{"datum":-9.51,"axis":{"labelOverlap":false,"values":[0,5,10,15]}}}}]},
{"title":{"text":"Hospitalized Pts Data","offset":0.1},"width":161,"height":125,"layer":[
{"data":{"name":"c2"},"mark":{"type":"line","color":"#000","strokeWidth":1.5,"point":{"filled":true,"size":38,"color":"#000","opacity":1}},"encoding":{"x":{"field":"t","type":"quantitative","scale":{"domain":[0.359,4.487],"nice":false,"zero":false},"axis":{"values":[1,2,3,4],"format":"d","labelOverlap":false,"title":"Time (Days)"}},"y":{"field":"v","type":"quantitative","scale":{"domain":[0,25],"nice":false},"axis":{"values":[0,5,10,15,20,25],"labelOverlap":false,"title":"Platelets Distribution Width (fl)"}},"detail":{"field":"s","type":"nominal"}}},
{"data":{"values":[{"c":"2.2c"}]},"mark":{"type":"text","font":"Open Sans","fontSize":21,"color":"#262626","align":"center","baseline":"middle"},"encoding":{"text":{"field":"c"},"x":{"datum":1.9,"axis":{"labelOverlap":false,"values":[1,2,3,4]}},"y":{"datum":-11.6,"axis":{"labelOverlap":false,"values":[0,5,10,15,20,25]}}}}]},
{"title":{"text":"Hospitalized Pts Data","offset":12},"width":177,"height":112,"layer":[
{"data":{"name":"d2"},"mark":{"type":"line","color":"#000","strokeWidth":1.5,"point":{"filled":true,"size":38,"color":"#000","opacity":1}},"encoding":{"x":{"field":"t","type":"quantitative","scale":{"domain":[0.336,5.035],"nice":false,"zero":false},"axis":{"values":[1,2,3,4],"format":"d","labelOverlap":false,"title":"Time (Days)"}},"y":{"field":"v","type":"quantitative","scale":{"domain":[0,25],"nice":false},"axis":{"values":[0,5,10,15,20,25],"labelOverlap":false,"title":"Hemoglobin Level (g/dL)"}},"detail":{"field":"s","type":"nominal"}}},
{"data":{"values":[{"c":"2.2d"}]},"mark":{"type":"text","font":"Open Sans","fontSize":21,"color":"#262626","align":"center","baseline":"middle"},"encoding":{"text":{"field":"c"},"x":{"datum":3.2,"axis":{"labelOverlap":false,"values":[1,2,3,4]}},"y":{"datum":-15.85,"axis":{"labelOverlap":false,"values":[0,5,10,15,20,25]}}}}]},
{"title":{"text":"Hospitalized Pts Data","offset":-4},"width":153,"height":114,"layer":[
{"data":{"name":"e2"},"mark":{"type":"line","color":"#000","strokeWidth":1.5,"point":{"filled":true,"size":38,"color":"#000","opacity":1}},"encoding":{"x":{"field":"t","type":"quantitative","scale":{"domain":[0.355,4.645],"nice":false,"zero":false},"axis":{"values":[1,2,3,4],"format":"d","labelOverlap":false,"title":"Time (Days)"}},"y":{"field":"v","type":"quantitative","scale":{"domain":[0,25],"nice":false},"axis":{"values":[0,5,10,15,20,25],"labelOverlap":false,"title":"Total Leukocytes Count (cells/µL)"}},"detail":{"field":"s","type":"nominal"}}},
{"data":{"values":[{"c":"2.2e"}]},"mark":{"type":"text","font":"Open Sans","fontSize":21,"color":"#262626","align":"center","baseline":"middle"},"encoding":{"text":{"field":"c"},"x":{"datum":1.9,"axis":{"labelOverlap":false,"values":[1,2,3,4]}},"y":{"datum":-15.13,"axis":{"labelOverlap":false,"values":[0,5,10,15,20,25]}}}}]}
]}
]}
